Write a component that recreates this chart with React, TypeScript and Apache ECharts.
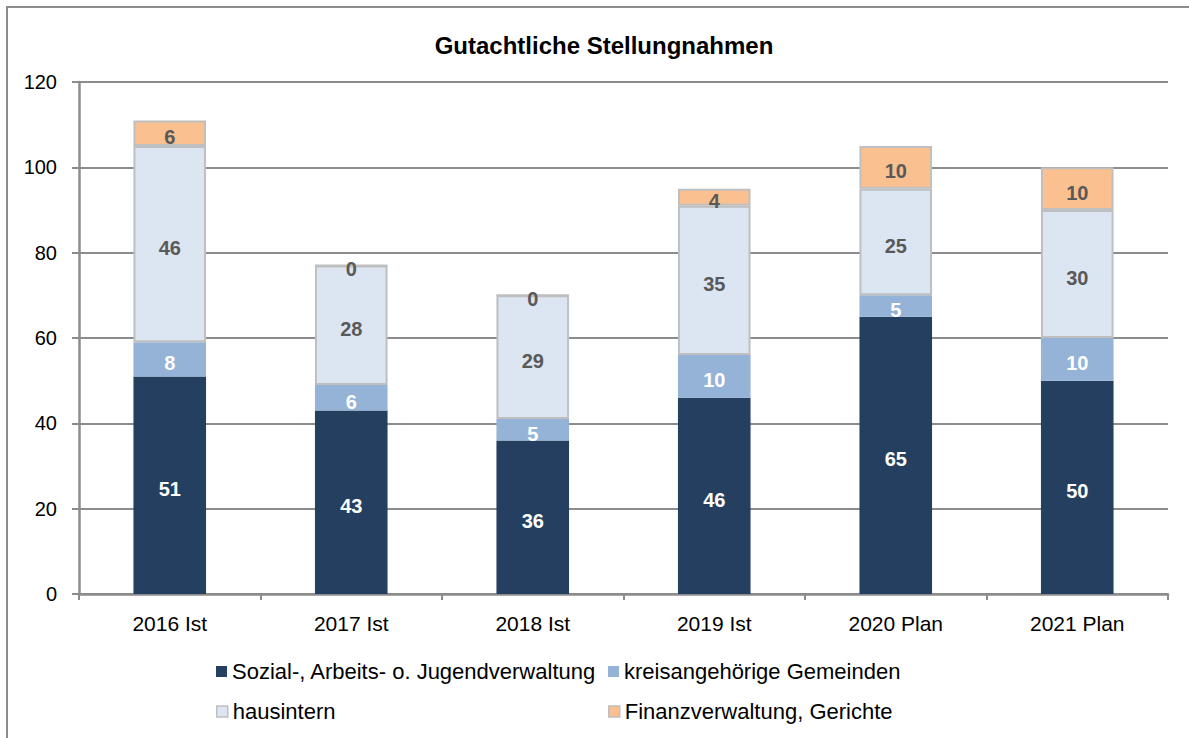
import React, { useEffect, useRef } from "react";
import * as echarts from "echarts";

const categories = ["2016 Ist", "2017 Ist", "2018 Ist", "2019 Ist", "2020 Plan", "2021 Plan"];
const seriesNames = [
  "Sozial-, Arbeits- o. Jugendverwaltung",
  "kreisangehörige Gemeinden",
  "hausintern",
  "Finanzverwaltung, Gerichte",
];
const sozial = [51, 43, 36, 46, 65, 50];
const gemeinden = [8, 6, 5, 10, 5, 10];
const hausintern = [46, 28, 29, 35, 25, 30];
const finanz = [6, 0, 0, 4, 10, 10];
const yTicks = { min: 0, max: 120, interval: 20 };

const FONT = "Liberation Sans, Arial, sans-serif";

export default function App() {
  const ref = useRef<HTMLDivElement>(null);
  useEffect(() => {
    document.body.style.margin = "0";
    const chart = echarts.init(ref.current!, null, { renderer: "svg" });
    const colors = ["#243F60", "#95B3D7", "#DCE6F2", "#FAC090"];
    const borders = [null, null, "#BFBFBF", "#BFBFBF"];
    const labelColors = ["#FFFFFF", "#FFFFFF", "#595959", "#595959"];
    const datas = [sozial, gemeinden, hausintern, finanz];
    const legendPos = [
      { left: 216, top: 657 },
      { left: 608, top: 657 },
      { left: 216, top: 697 },
      { left: 608, top: 697 },
    ];
    const option: any = {
      animation: false,
      backgroundColor: "#FFFFFF",
      textStyle: { fontFamily: FONT },
      title: {
        text: "Gutachtliche Stellungnahmen",
        left: 599,
        top: 28,
        textAlign: "center",
        textStyle: { fontFamily: FONT, fontSize: 24, fontWeight: "bold", color: "#000" },
      },
      graphic: [
        {
          type: "rect",
          shape: { x: 7, y: 7, width: 1300, height: 800 },
          style: { fill: "none", stroke: "#8C8C8C", lineWidth: 2 },
          silent: true,
          z: -1,
        },
      ],
      legend: seriesNames.map((n, i) => ({
        data: [{ name: n, itemStyle: borders[i] ? { borderColor: borders[i], borderWidth: 1.5 } : {} }],
        left: legendPos[i].left,
        top: legendPos[i].top,
        padding: 0,
        icon: "rect",
        itemWidth: 11,
        itemHeight: 11,
        itemGap: 5,
        selectedMode: false,
        textStyle: { fontFamily: FONT, fontSize: 22, color: "#000", lineHeight: 26, padding: [3, 0, 0, 0] },
      })),
      grid: { left: 79, right: 21, top: 82, bottom: 144 },
      xAxis: {
        type: "category",
        data: categories,
        axisLine: { lineStyle: { color: "#8C8C8C", width: 2.5 } },
        axisTick: { show: true, length: 6, lineStyle: { color: "#8C8C8C", width: 2 } },
        axisLabel: { fontFamily: FONT, fontSize: 21, color: "#000", margin: 19 },
      },
      yAxis: {
        type: "value",
        min: yTicks.min,
        max: yTicks.max,
        interval: yTicks.interval,
        axisLine: { show: true, lineStyle: { color: "#8C8C8C", width: 2.5 } },
        axisTick: { show: true, length: 7, lineStyle: { color: "#8C8C8C", width: 2 } },
        axisLabel: { fontFamily: FONT, fontSize: 20, color: "#000", margin: 22, padding: [8, 0, 0, 0] },
        splitLine: { show: true, lineStyle: { color: "#8C8C8C", width: 2 } },
      },
      series: seriesNames.map((n, i) => ({
        name: n,
        type: "bar",
        stack: "total",
        data: datas[i],
        barWidth: "40%",
        itemStyle: borders[i]
          ? { color: colors[i], borderColor: borders[i], borderWidth: 2 }
          : { color: colors[i] },
        label: {
          show: true,
          position: "inside",
          offset: [0, 4],
          fontFamily: FONT,
          fontSize: 20,
          fontWeight: "bold",
          color: labelColors[i],
        },
      })),
    };
    chart.setOption(option);
    return () => chart.dispose();
  }, []);
  return <div ref={ref} style={{ width: 1189, height: 738 }} />;
}
